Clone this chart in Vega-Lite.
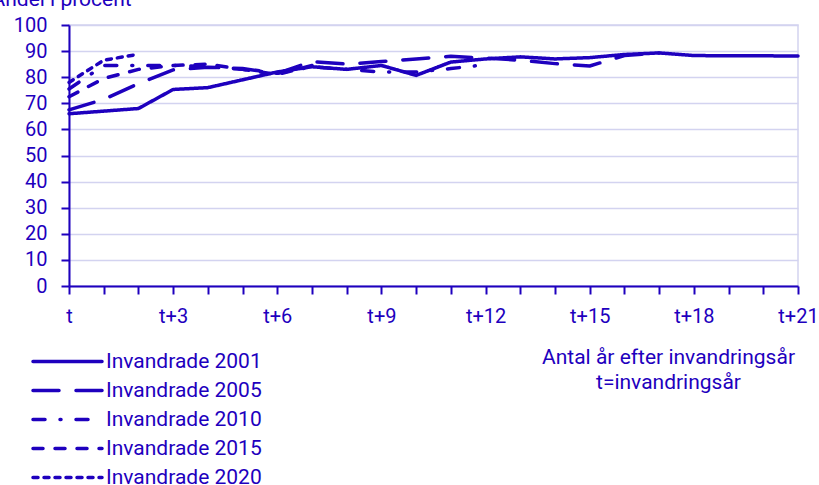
{
  "$schema": "https://vega.github.io/schema/vega-lite/v6.json",
  "width": 729,
  "height": 261,
  "autosize": "none",
  "padding": {"left": 69, "top": 25, "right": 21, "bottom": 199},
  "background": "white",
  "config": {
    "font": "Roboto",
    "view": {"stroke": "#d3d3f0", "strokeWidth": 1.5},
    "axis": {"labelFont": "Roboto", "titleFont": "Roboto", "labelColor": "#1e00be", "titleColor": "#1e00be", "labelFontSize": 20, "titleFontSize": 21, "titleFontWeight": "normal", "domainColor": "#1e00be", "tickColor": "#1e00be", "domainWidth": 2, "tickWidth": 2, "tickSize": 8, "gridColor": "#d3d3f0", "gridWidth": 1.5},
    "legend": {"labelFont": "Roboto", "labelFontSize": 21, "labelColor": "#1e00be"}
  },
  "data": {"values": [
    {"t": 0, "v": 66, "s": "Invandrade 2001"},
    {"t": 1, "v": 67, "s": "Invandrade 2001"},
    {"t": 2, "v": 68, "s": "Invandrade 2001"},
    {"t": 3, "v": 75.3, "s": "Invandrade 2001"},
    {"t": 4, "v": 76, "s": "Invandrade 2001"},
    {"t": 5, "v": 79, "s": "Invandrade 2001"},
    {"t": 6, "v": 82, "s": "Invandrade 2001"},
    {"t": 7, "v": 84, "s": "Invandrade 2001"},
    {"t": 8, "v": 83, "s": "Invandrade 2001"},
    {"t": 9, "v": 84.5, "s": "Invandrade 2001"},
    {"t": 10, "v": 80.7, "s": "Invandrade 2001"},
    {"t": 11, "v": 85.8, "s": "Invandrade 2001"},
    {"t": 12, "v": 87, "s": "Invandrade 2001"},
    {"t": 13, "v": 87.8, "s": "Invandrade 2001"},
    {"t": 14, "v": 87, "s": "Invandrade 2001"},
    {"t": 15, "v": 87.5, "s": "Invandrade 2001"},
    {"t": 16, "v": 88.7, "s": "Invandrade 2001"},
    {"t": 17, "v": 89.3, "s": "Invandrade 2001"},
    {"t": 18, "v": 88.3, "s": "Invandrade 2001"},
    {"t": 19, "v": 88.2, "s": "Invandrade 2001"},
    {"t": 20, "v": 88.2, "s": "Invandrade 2001"},
    {"t": 21, "v": 88.1, "s": "Invandrade 2001"},
    {"t": 0, "v": 67.5, "s": "Invandrade 2005"},
    {"t": 1, "v": 71.5, "s": "Invandrade 2005"},
    {"t": 2, "v": 77.5, "s": "Invandrade 2005"},
    {"t": 3, "v": 82.8, "s": "Invandrade 2005"},
    {"t": 4, "v": 83.8, "s": "Invandrade 2005"},
    {"t": 5, "v": 83.3, "s": "Invandrade 2005"},
    {"t": 6, "v": 81.5, "s": "Invandrade 2005"},
    {"t": 7, "v": 86, "s": "Invandrade 2005"},
    {"t": 8, "v": 85, "s": "Invandrade 2005"},
    {"t": 9, "v": 86, "s": "Invandrade 2005"},
    {"t": 10, "v": 87, "s": "Invandrade 2005"},
    {"t": 11, "v": 88, "s": "Invandrade 2005"},
    {"t": 12, "v": 87.3, "s": "Invandrade 2005"},
    {"t": 13, "v": 86.5, "s": "Invandrade 2005"},
    {"t": 14, "v": 85.2, "s": "Invandrade 2005"},
    {"t": 15, "v": 84.3, "s": "Invandrade 2005"},
    {"t": 16, "v": 88.3, "s": "Invandrade 2005"},
    {"t": 17, "v": 89.3, "s": "Invandrade 2005"},
    {"t": 0, "v": 75.5, "s": "Invandrade 2010"},
    {"t": 1, "v": 84.5, "s": "Invandrade 2010"},
    {"t": 2, "v": 84.5, "s": "Invandrade 2010"},
    {"t": 3, "v": 84.5, "s": "Invandrade 2010"},
    {"t": 4, "v": 84, "s": "Invandrade 2010"},
    {"t": 5, "v": 83, "s": "Invandrade 2010"},
    {"t": 6, "v": 81.5, "s": "Invandrade 2010"},
    {"t": 7, "v": 84, "s": "Invandrade 2010"},
    {"t": 8, "v": 83, "s": "Invandrade 2010"},
    {"t": 9, "v": 82, "s": "Invandrade 2010"},
    {"t": 10, "v": 82, "s": "Invandrade 2010"},
    {"t": 11, "v": 83.3, "s": "Invandrade 2010"},
    {"t": 12, "v": 84.8, "s": "Invandrade 2010"},
    {"t": 0, "v": 72.5, "s": "Invandrade 2015"},
    {"t": 1, "v": 79.5, "s": "Invandrade 2015"},
    {"t": 2, "v": 83, "s": "Invandrade 2015"},
    {"t": 3, "v": 84.5, "s": "Invandrade 2015"},
    {"t": 4, "v": 85, "s": "Invandrade 2015"},
    {"t": 5, "v": 83, "s": "Invandrade 2015"},
    {"t": 6, "v": 81, "s": "Invandrade 2015"},
    {"t": 7, "v": 84.5, "s": "Invandrade 2015"},
    {"t": 0, "v": 78, "s": "Invandrade 2020"},
    {"t": 1, "v": 86.5, "s": "Invandrade 2020"},
    {"t": 2, "v": 88.8, "s": "Invandrade 2020"}
  ]},
  "mark": {"type": "line", "color": "#1e00be", "strokeWidth": 3.5, "strokeCap": "round", "strokeJoin": "round"},
  "encoding": {
    "x": {
      "field": "t", "type": "quantitative",
      "scale": {"domain": [0, 21], "nice": false, "zero": false},
      "axis": {
        "values": [0,1,2,3,4,5,6,7,8,9,10,11,12,13,14,15,16,17,18,19,20,21],
        "labelExpr": "datum.value % 3 != 0 ? '' : (datum.value == 0 ? 't' : 't+' + datum.value)",
        "grid": false,
        "labelPadding": 12,
        "labelFlush": false,
        "labelOverlap": false,
        "title": ["Antal år efter invandringsår", "t=invandringsår"],
        "titleX": 599,
        "titleY": 77,
        "titleAlign": "center",
        "titleBaseline": "alphabetic",
        "titleLineHeight": 25
      }
    },
    "y": {
      "field": "v", "type": "quantitative",
      "scale": {"domain": [0, 100], "nice": false},
      "axis": {
        "values": [0,10,20,30,40,50,60,70,80,90,100],
        "labelPadding": 14,
        "title": "Andel i procent",
        "titleAngle": 0,
        "titleAlign": "left",
        "titleBaseline": "alphabetic",
        "titleX": -78,
        "titleY": -20
      }
    },
    "strokeDash": {
      "field": "s", "type": "nominal",
      "scale": {
        "domain": ["Invandrade 2001", "Invandrade 2005", "Invandrade 2010", "Invandrade 2015", "Invandrade 2020"],
        "range": [[1, 0], [26, 17], [12, 15, 1, 15], [10, 12], [5, 6]]
      },
      "legend": {
        "title": null,
        "orient": "none",
        "legendX": -38,
        "legendY": 322,
        "symbolType": "stroke",
        "symbolSize": 4761,
        "symbolStrokeWidth": 3.5,
        "symbolStrokeColor": "#1e00be",
        "clipHeight": 29,
        "rowPadding": 0,
        "labelOffset": 2,
        "labelLimit": 300,
        "encode": {"symbols": {"update": {"strokeCap": {"value": "round"}}}}
      }
    }
  }
}
